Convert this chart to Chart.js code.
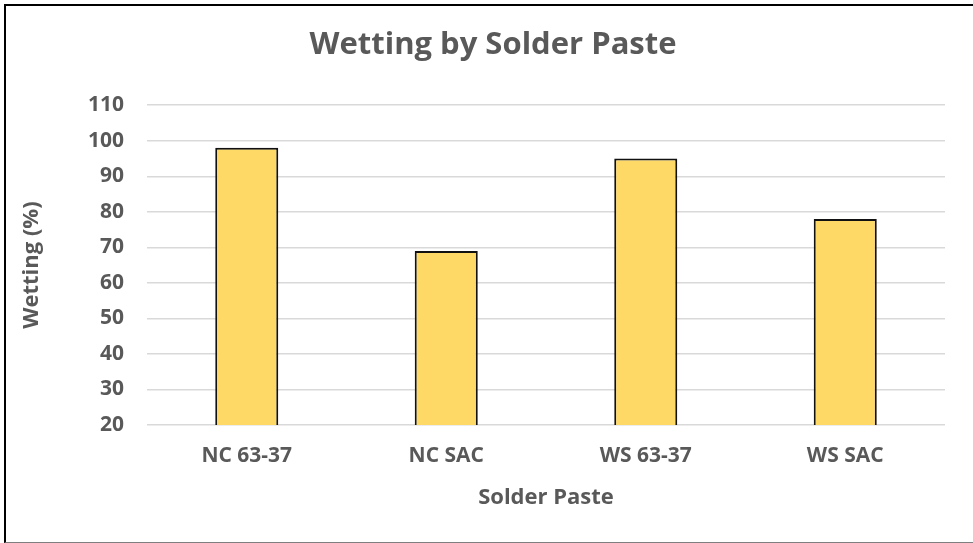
<!DOCTYPE html>
<html>
<head>
<meta charset="utf-8">
<script src="https://cdn.jsdelivr.net/npm/chart.js@4/dist/chart.umd.min.js"></script>
<style>
  html, body { margin: 0; padding: 0; background: #ffffff; }
  #wrap { position: relative; width: 973px; height: 543px; }
  #frame {
    position: absolute; left: 4px; top: 4px; right: 0; bottom: 0;
    border-left: 2px solid #000000; border-top: 2px solid #000000;
    border-bottom: 1px solid #7f7f7f; box-sizing: border-box; pointer-events: none;
  }
  canvas { position: absolute; left: 0; top: 0; }
</style>
</head>
<body>
<div id="wrap">
  <canvas id="chart" width="973" height="543"></canvas>
  <div id="frame"></div>
</div>
<script>
// Wetting results per solder paste
const categories = ['NC 63-37', 'NC SAC', 'WS 63-37', 'WS SAC'];
const wettingPct = [98, 69, 95, 78];
const yTicks = [20, 30, 40, 50, 60, 70, 80, 90, 100, 110];

const FONT = '"Open Sans", "Lato", sans-serif';
const TEXT = '#595959';

new Chart(document.getElementById('chart'), {
  type: 'bar',
  data: {
    labels: categories,
    datasets: [{
      label: 'Wetting (%)',
      data: wettingPct,
      backgroundColor: '#FFD966',
      borderColor: '#111111',
      borderWidth: 2,
      borderSkipped: 'bottom',
      categoryPercentage: 1.0,
      barPercentage: 0.316
    }]
  },
  options: {
    responsive: false,
    animation: false,
    layout: { padding: { left: 41, right: 28, top: 0, bottom: 8 } },
    plugins: {
      legend: { display: false },
      tooltip: { enabled: false },
      title: {
        display: true,
        text: 'Wetting by Solder Paste',
        color: TEXT,
        font: { family: FONT, size: 31, weight: 'bold', lineHeight: 1.2 },
        padding: { top: 27, bottom: 41 }
      }
    },
    scales: {
      x: {
        grid: { display: false, drawTicks: false },
        border: { display: false },
        ticks: {
          color: TEXT,
          padding: 18,
          font: { family: FONT, size: 21, weight: 'bold' }
        },
        title: {
          display: true,
          text: 'Solder Paste',
          color: TEXT,
          font: { family: FONT, size: 22, weight: 'bold', lineHeight: 1.2 },
          padding: { top: 0, bottom: 24 }
        },
        afterFit: (scale) => { scale.height = 110; }
      },
      y: {
        min: yTicks[0],
        max: yTicks[yTicks.length - 1],
        afterBuildTicks: (scale) => { scale.ticks = yTicks.map(v => ({ value: v })); },
        grid: { color: '#D9D9D9', lineWidth: 1.5, drawTicks: false },
        border: { display: false },
        ticks: {
          color: TEXT,
          padding: 23,
          font: { family: FONT, size: 21, weight: 'bold' }
        },
        title: {
          display: true,
          text: 'Wetting (%)',
          color: TEXT,
          font: { family: FONT, size: 22, weight: 'bold', lineHeight: 1.2 },
          padding: { top: -22, bottom: 0 }
        },
        afterFit: (scale) => { scale.width = 106; }
      }
    }
  }
});
</script>
</body>
</html>
